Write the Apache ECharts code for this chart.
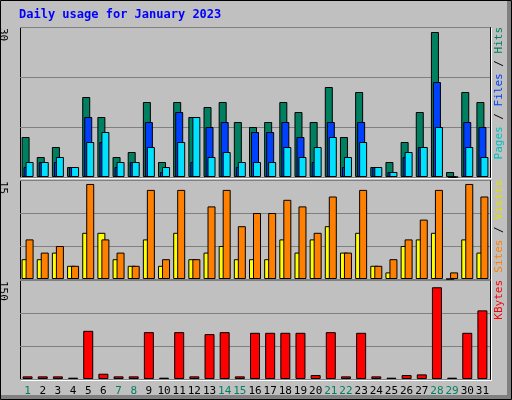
<!DOCTYPE html>
<html><head><meta charset="utf-8">
<script src="https://cdn.jsdelivr.net/npm/echarts@6/dist/echarts.min.js"></script>
<style>html,body{margin:0;padding:0;background:#c0c0c0}#c{width:512px;height:400px}</style>
</head><body><div id="c"></div>
<script>
const days = ['1','2','3','4','5','6','7','8','9','10','11','12','13','14','15','16','17','18','19','20','21','22','23','24','25','26','27','28','29','30','31'];
const weekend = ['1','7','8','14','15','21','22','28','29'];
const hits  = [8,4,6,2,16,12,4,5,15,3,15,12,14,15,11,10,11,15,13,11,18,8,17,2,3,7,13,29,1,17,15];
const files = [2,3,3,2,12,7,2,3,11,1,13,3,10,11,2,9,9,11,8,3,11,2,11,2,1,4,6,19,0,11,10];
const pages = [3,3,4,2,7,9,3,3,6,2,7,12,4,5,3,3,3,6,4,6,8,4,7,2,1,5,6,10,0,6,4];
const sites = [3,3,4,2,7,7,3,2,6,2,7,3,4,5,3,3,3,6,4,6,8,4,7,2,1,5,6,7,0,6,4];
const visits = [6,4,5,2,14.4,6,4,2,13.5,3,13.5,3,11,13.5,8,10,10,12,11,7,12.5,4,13.5,2,3,6,9,13.5,1,14.4,12.5];
const kbytes = [4,4,4,2,73,8,4,4,71,2,71,4,68,71,4,70,70,70,70,6,71,4,70,4,2,6,7,139,2,70,104];
const maxLabels = ['30','15','150'];

const grids = [
  {left:20, top:27, width:470, height:150},
  {left:20, top:180, width:470, height:99},
  {left:20, top:280, width:470, height:99}
];
const maxes=[30,15,150], ints=[10,5,50];
const xAxis = grids.map((g,i)=>({type:'category', gridIndex:i, data:days, boundaryGap:true,
  axisLine:{show:false}, axisTick:{show:false},
  axisLabel:{show:i===2, fontFamily:'DejaVu Sans Mono', fontSize:11, margin:7,
    color:(v)=>weekend.includes(v)?'#008060':'#000000', interval:0}}));
const yAxis = grids.map((g,i)=>({type:'value', gridIndex:i, min:0, max:maxes[i], interval:ints[i],
  axisLabel:{show:false}, axisLine:{show:false}, axisTick:{show:false},
  splitLine:{show:true, lineStyle:{color:'#808080', width:1}}}));
const bs = {borderColor:'#000', borderWidth:1};
function bar(name,data,color,gi,w,gap){return {name,type:'bar',xAxisIndex:gi,yAxisIndex:gi,data,barWidth:w,barGap:gap,
  itemStyle:Object.assign({color},bs),animation:false,silent:true};}
const series=[
  bar('Hits',hits,'#008060',0,8,'-75%'),
  bar('Files',files,'#0040ff',0,8,'-75%'),
  bar('Pages',pages,'#00e0ff',0,8,'-75%'),
  bar('Sites',sites,'#ffff00',1,8,'-50%'),
  bar('Visits',visits,'#ff8000',1,8,'-50%'),
  bar('KBytes',kbytes,'#ff0000',2,10,'0%')
];
const graphic=[
  {type:'rect',shape:{x:0.5,y:0.5,width:511,height:399},style:{fill:'#c0c0c0',stroke:'#000',lineWidth:1},z:-10},
  {type:'rect',shape:{x:507,y:1,width:4,height:398},style:{fill:'#808080'},z:-9},
  {type:'rect',shape:{x:1,y:395,width:510,height:4},style:{fill:'#808080'},z:-9},
  {type:'text',left:19,top:9,style:{text:'Daily usage for January 2023',font:'bold 12px "DejaVu Sans Mono"',fill:'#0000ff'}}
];
grids.forEach((g,i)=>{
  graphic.push({type:'rect',shape:{x:g.left+0.5,y:g.top+0.5,width:g.width,height:g.height},style:{fill:'#c0c0c0',stroke:'#000',lineWidth:1},z:-5});
  graphic.push({type:'polyline',shape:{points:[[g.left+g.width+1.5,g.top+1],[g.left+g.width+1.5,g.top+g.height+1.5],[g.left+1,g.top+g.height+1.5]]},style:{stroke:'#fff',lineWidth:1,fill:null},z:-5});
  graphic.push({type:'text',x:8,y:g.top+1,rotation:-Math.PI/2,style:{text:maxLabels[i],font:'11px "DejaVu Sans Mono"',fill:'#000',align:'left',verticalAlign:'top'},z:5});
});
function rlabel(y,parts){
  graphic.push({type:'text',x:494,y:y,rotation:Math.PI/2,
    style:{align:'right',verticalAlign:'top',font:'11px "DejaVu Sans Mono"',
      text:parts.map((p,j)=>'{s'+j+'|'+p[0]+'}').join(''),
      rich:Object.fromEntries(parts.map((p,j)=>['s'+j,{fill:p[1],font:'11px "DejaVu Sans Mono"'}]))},z:5});
}
rlabel(27,[['Pages','#00c0c0'],[' / ','#000'],['Files','#0040ff'],[' / ','#000'],['Hits','#008060']]);
rlabel(180,[['Sites','#ff8000'],[' / ','#000'],['Visits','#e0e000']]);
rlabel(280,[['KBytes','#ff0000']]);
const chart=echarts.init(document.getElementById('c'));
chart.setOption({animation:false,backgroundColor:'#c0c0c0',grid:grids,xAxis,yAxis,series,graphic});
</script></body></html>
